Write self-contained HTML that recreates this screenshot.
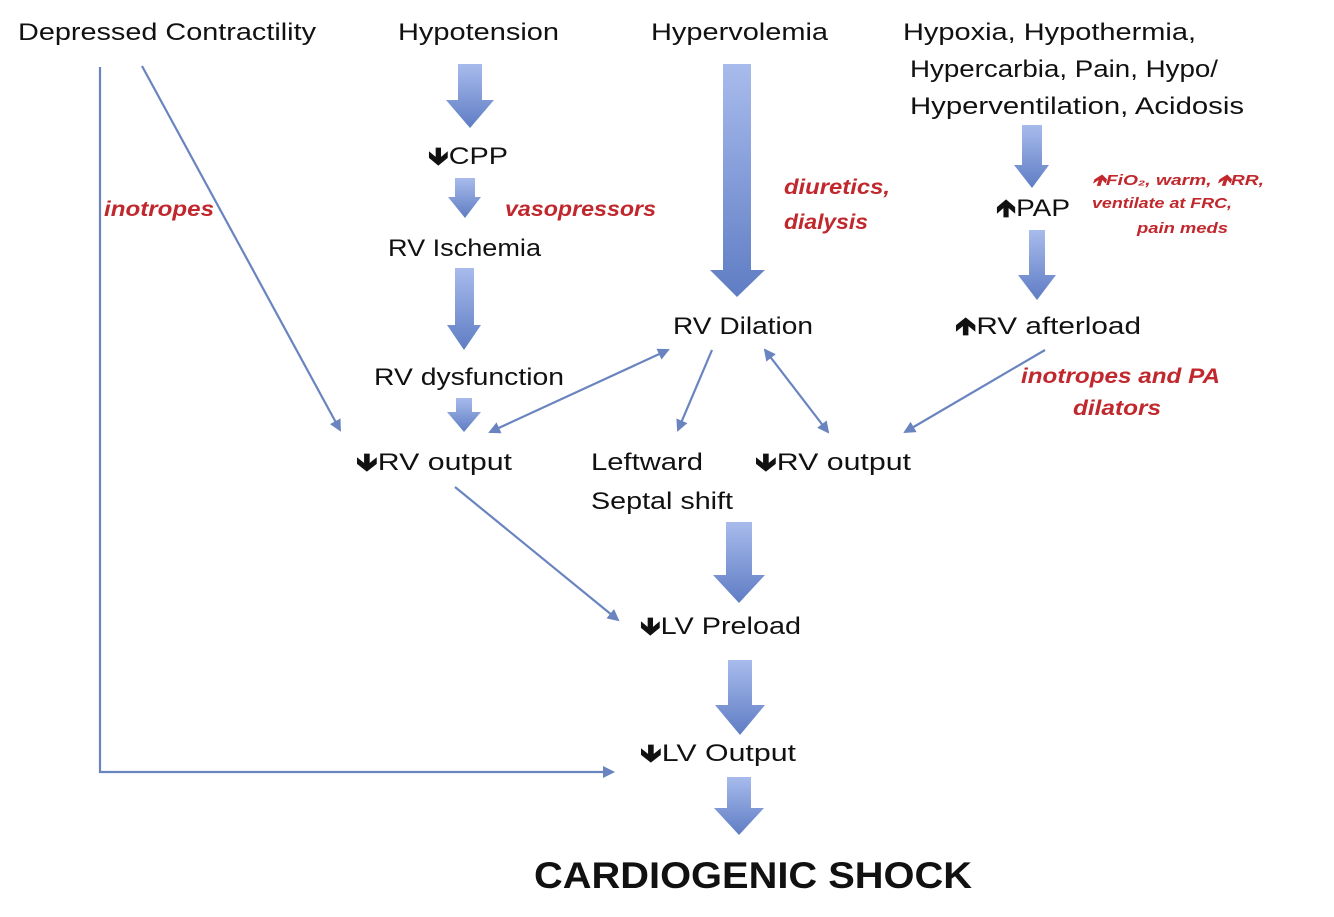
<!DOCTYPE html>
<html><head><style>
body{margin:0;background:#fff;width:1334px;height:912px;overflow:hidden}
svg text{font-family:"Liberation Sans",sans-serif}
.t{font-size:24px;fill:#111}
.r{font-size:21px;fill:#c0282d;font-weight:bold;font-style:italic}
.rs{font-size:15px;fill:#c0282d;font-weight:bold;font-style:italic}
.a{font-weight:bold}
</style></head><body>
<svg width="1334" height="912" xmlns="http://www.w3.org/2000/svg">
<defs>
<linearGradient id="g" x1="0" y1="0" x2="0" y2="1"><stop offset="0" stop-color="#a8bbec"/><stop offset="1" stop-color="#5f7dc4"/></linearGradient>
<marker id="m" markerWidth="12" markerHeight="12" refX="10" refY="6" orient="auto-start-reverse" markerUnits="userSpaceOnUse"><path d="M0,0 L12,6 L0,12 z" fill="#6a84c0"/></marker>
</defs>
<g fill="url(#g)">
<path d="M458,64H482V100H494L470,128L446,100H458Z"/>
<path d="M455,178H475V197H481L465,218L448,197H455Z"/>
<path d="M455,268H474V325H481L464,350L447,325H455Z"/>
<path d="M456,398H472V412H481L464,432L447,412H456Z"/>
<path d="M723,64H751V270H765L737,297L710,270H723Z"/>
<path d="M1022,125H1042V165H1049L1032,188L1014,165H1022Z"/>
<path d="M1029,230H1045V275H1056L1037,300L1018,275H1029Z"/>
<path d="M726,522H752V575H765L739,603L713,575H726Z"/>
<path d="M728,660H752V705H765L740,735L715,705H728Z"/>
<path d="M727,777H751V808H764L739,835L714,808H727Z"/>
</g>
<g stroke="#6a84c0" stroke-width="2.2" fill="none">
<path d="M100,67V772H613" marker-end="url(#m)"/>
<path d="M142,66L340,430" marker-end="url(#m)"/>
<path d="M668,350L490,432" marker-start="url(#m)" marker-end="url(#m)"/>
<path d="M712,350L678,430" marker-end="url(#m)"/>
<path d="M765,350L828,432" marker-start="url(#m)" marker-end="url(#m)"/>
<path d="M1045,350L905,432" marker-end="url(#m)"/>
<path d="M455,487L618,620" marker-end="url(#m)"/>
</g>
<g class="t" lengthAdjust="spacingAndGlyphs">
<text x="18" y="40" textLength="298" lengthAdjust="spacingAndGlyphs">Depressed Contractility</text>
<text x="398" y="40" textLength="161" lengthAdjust="spacingAndGlyphs">Hypotension</text>
<text x="651" y="40" textLength="177" lengthAdjust="spacingAndGlyphs">Hypervolemia</text>
<text x="903" y="40" textLength="293" lengthAdjust="spacingAndGlyphs">Hypoxia, Hypothermia,</text>
<text x="910" y="77" textLength="308" lengthAdjust="spacingAndGlyphs">Hypercarbia, Pain, Hypo/</text>
<text x="910" y="114" textLength="334" lengthAdjust="spacingAndGlyphs">Hyperventilation, Acidosis</text>
<text x="428" y="164" textLength="80" lengthAdjust="spacingAndGlyphs"><tspan class="a">🡻</tspan>CPP</text>
<text x="388" y="256" textLength="153" lengthAdjust="spacingAndGlyphs">RV Ischemia</text>
<text x="374" y="385" textLength="190" lengthAdjust="spacingAndGlyphs">RV dysfunction</text>
<text x="356" y="470" textLength="156" lengthAdjust="spacingAndGlyphs"><tspan class="a">🡻</tspan>RV output</text>
<text x="673" y="334" textLength="140" lengthAdjust="spacingAndGlyphs">RV Dilation</text>
<text x="996" y="216" textLength="74" lengthAdjust="spacingAndGlyphs"><tspan class="a">🡹</tspan>PAP</text>
<text x="955" y="334" textLength="186" lengthAdjust="spacingAndGlyphs"><tspan class="a">🡹</tspan>RV afterload</text>
<text x="591" y="470" textLength="112" lengthAdjust="spacingAndGlyphs">Leftward</text>
<text x="591" y="509" textLength="142" lengthAdjust="spacingAndGlyphs">Septal shift</text>
<text x="755" y="470" textLength="156" lengthAdjust="spacingAndGlyphs"><tspan class="a">🡻</tspan>RV output</text>
<text x="640" y="634" textLength="161" lengthAdjust="spacingAndGlyphs"><tspan class="a">🡻</tspan>LV Preload</text>
<text x="640" y="761" textLength="156" lengthAdjust="spacingAndGlyphs"><tspan class="a">🡻</tspan>LV Output</text>
</g>
<text x="534" y="888" textLength="438" lengthAdjust="spacingAndGlyphs" style="font-size:37px;font-weight:bold;fill:#111">CARDIOGENIC SHOCK</text>
<text class="r" x="104" y="216" textLength="110" lengthAdjust="spacingAndGlyphs">inotropes</text>
<text class="r" x="505" y="216" textLength="151" lengthAdjust="spacingAndGlyphs">vasopressors</text>
<text class="r" x="784" y="194" textLength="106" lengthAdjust="spacingAndGlyphs">diuretics,</text>
<text class="r" x="784" y="229" textLength="84" lengthAdjust="spacingAndGlyphs">dialysis</text>
<text class="r" x="1021" y="383" textLength="199" lengthAdjust="spacingAndGlyphs">inotropes and PA</text>
<text class="r" x="1073" y="415" textLength="88" lengthAdjust="spacingAndGlyphs">dilators</text>
<text class="rs" x="1092" y="185" textLength="172" lengthAdjust="spacingAndGlyphs">🡹FiO₂, warm, 🡹RR,</text>
<text class="rs" x="1092" y="208" textLength="140" lengthAdjust="spacingAndGlyphs">ventilate at FRC,</text>
<text class="rs" x="1137" y="233" textLength="91" lengthAdjust="spacingAndGlyphs">pain meds</text>
</svg>
</body></html>
